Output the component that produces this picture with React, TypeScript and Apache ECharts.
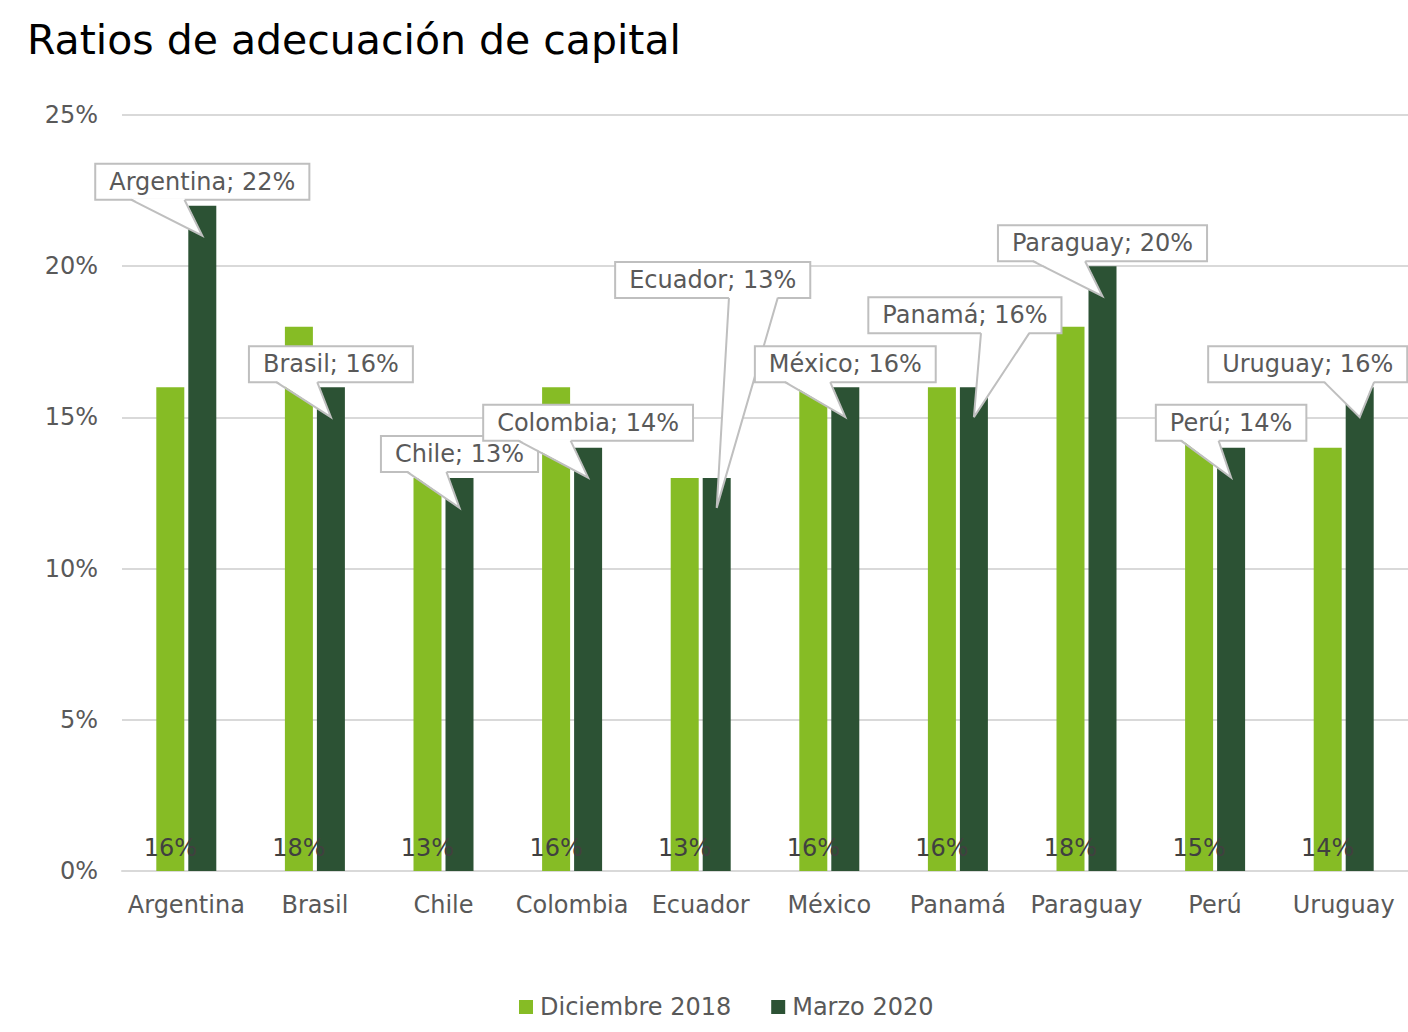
import React, { useEffect, useRef } from "react";
import * as echarts from "echarts";

const categories = ["Argentina", "Brasil", "Chile", "Colombia", "Ecuador", "México", "Panamá", "Paraguay", "Perú", "Uruguay"];
const dic2018 = [16, 18, 13, 16, 13, 16, 16, 18, 15, 14];
const mar2020 = [22, 16, 13, 14, 13, 16, 16, 20, 14, 16];
const seriesNames = ["Diciembre 2018", "Marzo 2020"];
const yMin = 0;
const yMax = 25;
const yStep = 5;

// callout box offsets from the pointer tip (pixels)
const calloutDx = [0, 0, 0, 0, -4, 0, -9, 0, 0, -52];
const calloutDy = [-54, -53, -54, -55, -228, -53, -102, -53, -55, -53];

const FONT = "'DejaVu Sans', Verdana, sans-serif";
const LIGHT = "#86BC25";
const DARK = "#2C5234";
const BAR_W = 28;
const BAR_GAP_PX = 4;

let measureCtx: CanvasRenderingContext2D | null = null;
function measure(text: string): number {
  if (!measureCtx) {
    measureCtx = document.createElement("canvas").getContext("2d");
  }
  if (!measureCtx) return text.length * 13;
  measureCtx.font = `24px ${FONT}`;
  return measureCtx.measureText(text).width;
}

export default function App() {
  const ref = useRef<HTMLDivElement>(null);

  useEffect(() => {
    document.body.style.margin = "0";
    if (!ref.current) return;
    const chart = echarts.init(ref.current, null, { renderer: "svg" });

    const calloutData = mar2020.map((v, i) => [i, v]);

    chart.setOption({
      animation: false,
      backgroundColor: "#ffffff",
      title: {
        text: "Ratios de adecuación de capital",
        left: 22,
        top: 11,
        textStyle: {
          fontFamily: FONT,
          fontSize: 41,
          fontWeight: "normal",
          color: "#000000",
          lineHeight: 48,
        },
      },
      grid: { left: 122, right: 0, top: 115, bottom: 161, containLabel: false },
      legend: {
        data: seriesNames,
        left: 514,
        top: 990,
        itemWidth: 14,
        itemHeight: 14,
        itemGap: 40,
        icon: "rect",
        textStyle: { fontFamily: FONT, fontSize: 24, color: "#595959", lineHeight: 24, padding: [0, 0, 0, 2] },
      },
      xAxis: {
        type: "category",
        data: categories,
        axisTick: { show: false },
        axisLine: { lineStyle: { color: "#D9D9D9", width: 2 } },
        axisLabel: {
          fontFamily: FONT,
          fontSize: 24,
          color: "#595959",
          margin: 22,
          lineHeight: 24,
          interval: 0,
        },
      },
      yAxis: {
        type: "value",
        min: yMin,
        max: yMax,
        interval: yStep,
        axisLine: { show: false },
        axisTick: { show: false },
        splitLine: { lineStyle: { color: "#D9D9D9", width: 2 } },
        axisLabel: {
          fontFamily: FONT,
          fontSize: 24,
          color: "#595959",
          margin: 24,
          formatter: "{value}%",
        },
      },
      series: [
        {
          name: seriesNames[0],
          type: "bar",
          data: dic2018,
          barWidth: BAR_W,
          barGap: `${(BAR_GAP_PX / BAR_W) * 100}%`,
          itemStyle: { color: LIGHT },
          z: 2,
          label: {
            show: true,
            position: "insideBottom",
            distance: 11,
            formatter: "{c}%",
            fontFamily: FONT,
            fontSize: 24,
            color: "#404040",
            lineHeight: 24,
          },
        },
        {
          name: seriesNames[1],
          type: "bar",
          data: mar2020,
          barWidth: BAR_W,
          itemStyle: { color: DARK },
          z: 2,
        },
        {
          name: "callouts",
          type: "custom",
          z: 5,
          silent: true,
          clip: false,
          data: calloutData,
          encode: { x: 0, y: 1 },
          renderItem: (params: any, api: any) => {
            const i = params.dataIndex;
            const val = api.value(1);
            const p = api.coord([api.value(0), val]);
            const tipX = p[0] + (BAR_W + BAR_GAP_PX) / 2;
            const tipY = p[1] + 30;
            const text = `${categories[i]}; ${val}%`;
            const bw = measure(text) + 28;
            const bh = 36;
            const cx = tipX + calloutDx[i];
            const cy = tipY + calloutDy[i];
            const left = cx - bw / 2;
            const top = cy - bh / 2;
            const bottom = top + bh;
            const rightSide = tipX - cx > 0;
            const b1 = left + (bw * (rightSide ? 7 : 2)) / 12;
            const b2 = left + (bw * (rightSide ? 10 : 5)) / 12;
            return {
              type: "group",
              children: [
                {
                  type: "rect",
                  shape: { x: left, y: top, width: bw, height: bh },
                  style: { fill: "#ffffff", stroke: "#BFBFBF", lineWidth: 2 },
                },
                {
                  type: "polygon",
                  shape: { points: [[b1, bottom - 1.5], [tipX, tipY], [b2, bottom - 1.5]] },
                  style: { fill: "#ffffff" },
                },
                {
                  type: "polyline",
                  shape: { points: [[b1, bottom], [tipX, tipY], [b2, bottom]] },
                  style: { stroke: "#BFBFBF", lineWidth: 2, fill: "none" },
                },
                {
                  type: "text",
                  style: {
                    text,
                    x: cx,
                    y: cy,
                    fill: "#595959",
                    fontSize: 24,
                    fontFamily: FONT,
                    align: "center",
                    verticalAlign: "middle",
                  },
                },
              ],
            };
          },
        },
      ],
    });

    return () => {
      chart.dispose();
    };
  }, []);

  return <div ref={ref} style={{ width: 1408, height: 1032 }} />;
}
